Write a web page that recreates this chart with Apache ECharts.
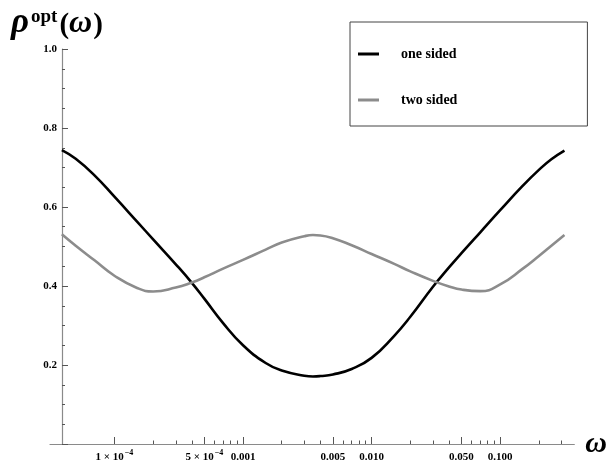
<!DOCTYPE html>
<html><head><meta charset="utf-8">
<script src="https://cdn.jsdelivr.net/npm/echarts@6/dist/echarts.min.js"></script>
<style>html,body{margin:0;padding:0;background:#fff}#c{width:610px;height:466px}</style>
</head><body><div id="c"></div>
<script>
// frequencies (omega) at which the curves were read
const omega = [3.9e-5, 5e-5, 7e-5, 1e-4, 1.5e-4, 2e-4, 3e-4, 4e-4, 5e-4, 7e-4,
  0.001, 0.0015, 0.002, 0.003, 0.0035, 0.004, 0.005, 0.007, 0.01, 0.015,
  0.02, 0.03, 0.04, 0.05, 0.07, 0.1, 0.15, 0.2, 0.25, 0.316];
const oneSided = [0.744, 0.722, 0.680, 0.626, 0.563, 0.518, 0.455, 0.408, 0.368, 0.306,
  0.250, 0.205, 0.186, 0.173, 0.171, 0.172, 0.176, 0.190, 0.218, 0.274,
  0.322, 0.398, 0.447, 0.483, 0.536, 0.592, 0.654, 0.694, 0.721, 0.743];
const twoSided = [0.531, 0.502, 0.465, 0.426, 0.395, 0.386, 0.396, 0.409, 0.422, 0.444,
  0.466, 0.492, 0.510, 0.526, 0.529, 0.528, 0.521, 0.503, 0.481, 0.456,
  0.437, 0.413, 0.399, 0.391, 0.387, 0.404, 0.444, 0.476, 0.502, 0.529];
const seriesNames = ['one sided', 'two sided'];
const xMajorTicks = [1e-4, 5e-4, 0.001, 0.005, 0.01, 0.05, 0.1];
const xMajorLabels = ['1 × 10^-4', '5 × 10^-4', '0.001', '0.005', '0.010', '0.050', '0.100'];
const xMinorTicks = [2e-4, 3e-4, 4e-4, 6e-4, 7e-4, 8e-4, 9e-4,
  0.002, 0.003, 0.004, 0.006, 0.007, 0.008, 0.009,
  0.02, 0.03, 0.04, 0.06, 0.07, 0.08, 0.09, 0.2, 0.3];
const yLabels = ['0.2', '0.4', '0.6', '0.8', '1.0'];
const xMin = 3.155e-5, xMax = 0.377;

const serif = '"Liberation Serif", "DejaVu Serif", serif';
const axisColor = '#8a8a8a';

function fmtX(v) {
  let best = 0, bd = Infinity;
  xMajorTicks.forEach((t, i) => { const d = Math.abs(Math.log10(t) - Math.log10(v)); if (d < bd) { bd = d; best = i; } });
  const s = xMajorLabels[best];
  if (s.indexOf('^') >= 0) { const p = s.split('^'); return '{b|' + p[0] + '}{s|' + p[1].replace('-', '−') + '}'; }
  return '{b|' + s + '}';
}

const chart = echarts.init(document.getElementById('c'), null, {renderer: 'canvas'});
chart.setOption({
  animation: false,
  backgroundColor: '#fff',
  title: {
    text: '{r|ρ}{o|opt}{p|(}{w|ω}{p|)}',
    left: 11, top: 8, padding: 0,
    textStyle: {
      rich: {
        r: {fontFamily: serif, fontSize: 35, fontWeight: 'bold', fontStyle: 'italic', color: '#000', lineHeight: 32, verticalAlign: 'bottom'},
        o: {fontFamily: serif, fontSize: 19, fontWeight: 'bold', color: '#000', lineHeight: 19, padding: [0, 2, 13, 2], verticalAlign: 'bottom'},
        p: {fontFamily: serif, fontSize: 29, fontWeight: 'bold', color: '#000', lineHeight: 32, verticalAlign: 'bottom'},
        w: {fontFamily: serif, fontSize: 32, fontWeight: 'bold', fontStyle: 'italic', color: '#000', lineHeight: 32, verticalAlign: 'bottom', padding: [0, 1, 0, 0]}
      }
    }
  },
  legend: {
    data: seriesNames,
    orient: 'vertical',
    left: 350, top: 22,
    padding: [25, 130, 19, 8],
    icon: 'rect',
    itemWidth: 21, itemHeight: 3, itemGap: 32,
    borderColor: '#444', borderWidth: 1,
    textStyle: {fontFamily: serif, fontSize: 14, fontWeight: 'bold', color: '#000', padding: [0, 0, 0, 17], lineHeight: 14}
  },
  grid: {left: 50, right: 33, top: 49, bottom: 22, containLabel: false},
  xAxis: [{
    type: 'log', min: xMin, max: xMax, position: 'bottom',
    name: 'ω', nameLocation: 'end', nameGap: 11,
    nameTextStyle: {fontFamily: serif, fontSize: 30, fontWeight: 'bold', fontStyle: 'italic', color: '#000', verticalAlign: 'middle', padding: [4, 0, 0, 0]},
    axisLine: {show: true, lineStyle: {color: axisColor, width: 1.2}},
    axisTick: {show: true, inside: true, length: 7, customValues: xMajorTicks, lineStyle: {color: '#555', width: 1}},
    axisLabel: {customValues: xMajorTicks, margin: 5, formatter: fmtX,
      rich: {
        b: {fontFamily: serif, fontSize: 11, fontWeight: 'bold', color: '#000', lineHeight: 14, verticalAlign: 'bottom'},
        s: {fontFamily: serif, fontSize: 8, fontWeight: 'bold', color: '#000', lineHeight: 9, verticalAlign: 'top', padding: [0, 0, 0, 1]}
      }},
    splitLine: {show: false}, minorTick: {show: false}
  }, {
    type: 'log', min: xMin, max: xMax, position: 'bottom',
    axisLine: {show: false},
    axisTick: {show: true, inside: true, length: 3.5, customValues: xMinorTicks, lineStyle: {color: '#555', width: 1}},
    axisLabel: {show: false},
    splitLine: {show: false}
  }],
  yAxis: [{
    type: 'value', min: 0, max: 1, interval: 0.2, position: 'left', offset: -12,
    axisLine: {show: true, lineStyle: {color: axisColor, width: 1.2}},
    axisTick: {show: true, inside: true, length: 6, lineStyle: {color: '#555', width: 1}},
    axisLabel: {margin: 5, fontFamily: serif, fontSize: 11, fontWeight: 'bold', color: '#000',
      formatter: v => { const i = Math.round(v / 0.2) - 1; return i >= 0 ? yLabels[i] : ''; }},
    splitLine: {show: false}
  }, {
    type: 'value', min: 0, max: 1, interval: 0.05, position: 'left', offset: -12,
    axisLine: {show: false},
    axisTick: {show: true, inside: true, length: 3, lineStyle: {color: '#555', width: 1}},
    axisLabel: {show: false},
    splitLine: {show: false}
  }],
  series: [{
    name: seriesNames[0], type: 'line', xAxisIndex: 0, yAxisIndex: 0,
    data: omega.map((w, i) => [w, oneSided[i]]),
    smooth: 0.5, symbol: 'none',
    lineStyle: {color: '#000', width: 2.6}, itemStyle: {color: '#000'}
  }, {
    name: seriesNames[1], type: 'line', xAxisIndex: 0, yAxisIndex: 0,
    data: omega.map((w, i) => [w, twoSided[i]]),
    smooth: 0.5, symbol: 'none',
    lineStyle: {color: '#8c8c8c', width: 2.6}, itemStyle: {color: '#8c8c8c'}
  }]
});
</script>
</body></html>
